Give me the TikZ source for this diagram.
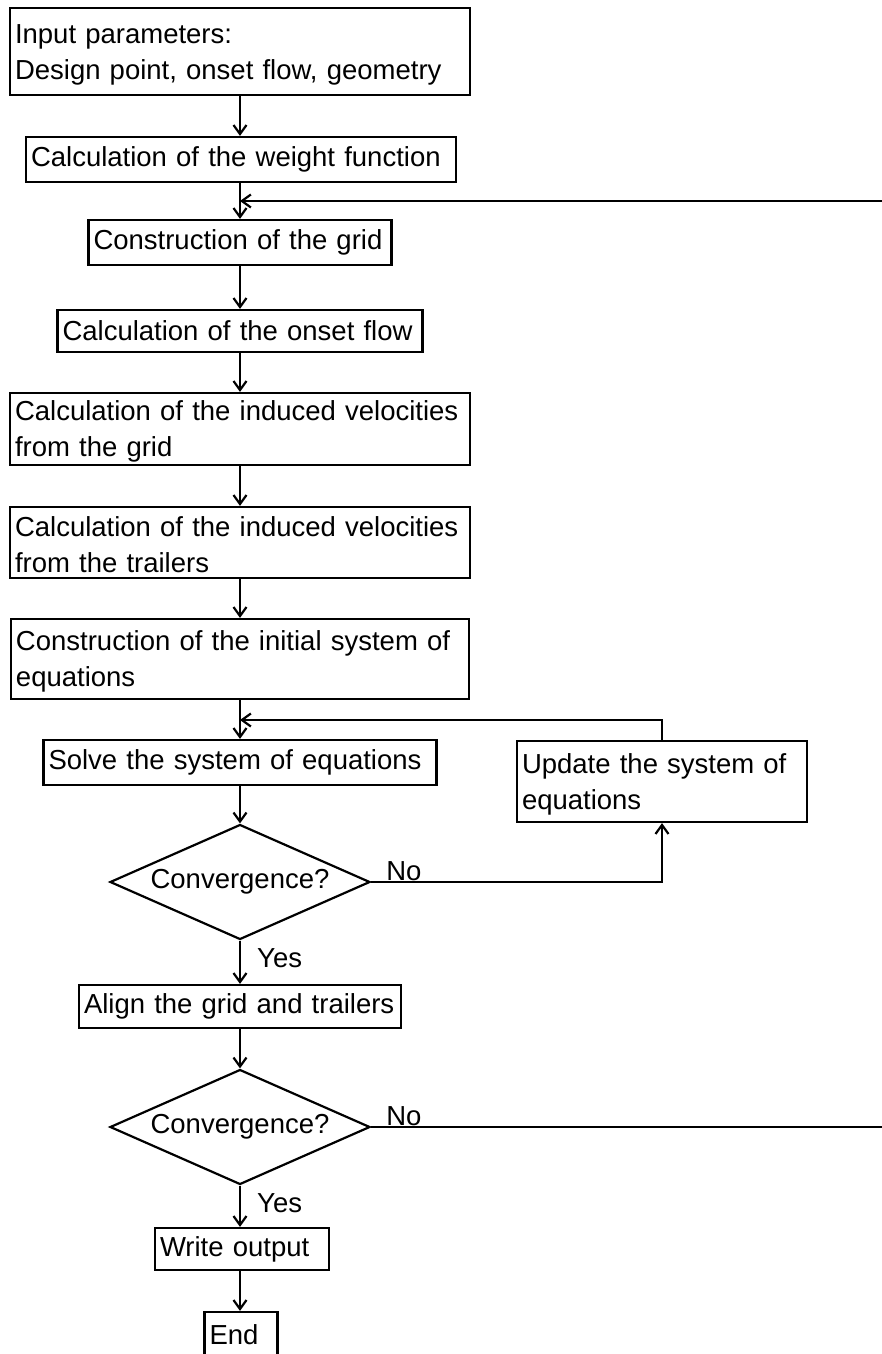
\documentclass[tikz,border=0pt]{standalone}
\usepackage{fontspec}
\setmainfont{Liberation Sans}
\usetikzlibrary{arrows.meta}
\usetikzlibrary{shapes.geometric}

\tikzset{
	stepbox/.style={draw, line width=2.2pt, inner xsep=5pt, inner ysep=0pt, align=left, font=\fontsize{27.5}{36}\selectfont},
	test/.style={draw, diamond, line width=2.2pt, inner sep=0pt, aspect=2.26, minimum width=260pt, minimum height=115pt, font=\fontsize{27.5}{36}\selectfont},
	lbl/.style={inner sep=0pt, anchor=base west, font=\fontsize{27.5}{36}\selectfont},
	flow/.style={line width=2.2pt, -{Straight Barb[length=9pt,width=13pt]}}
}

\begin{document}
\begin{tikzpicture}[x=1pt,y=-1pt]
	\useasboundingbox (0,0) rectangle (882,1354);
	\clip (0,0) rectangle (882,1354);
	% main column
	\node[stepbox, text width=450pt, minimum height=87pt] (inp) at (240,51.5) {\strut Input parameters:\\Design point, onset flow, geometry};
	\node[stepbox, text width=420pt, minimum height=45pt] (wfn) at (241,159.5) {Calculation of the weight function};
	\node[stepbox, text width=293pt, minimum height=45pt] (grd) at (240,242.5) {Construction of the grid};
	\node[stepbox, text width=355pt, minimum height=42pt] (ons) at (240,331) {Calculation of the onset flow};
	\node[stepbox, text width=450pt, minimum height=72pt] (ind1) at (240,429) {\strut Calculation of the induced velocities\\from the grid};
	\node[stepbox, text width=450pt, minimum height=71pt] (ind2) at (240,542.5) {\strut Calculation of the induced velocities\\from the trailers};
	\node[stepbox, text width=448pt, minimum height=80pt] (init) at (240,659) {\strut Construction of the initial system of\\equations};
	\node[stepbox, text width=383pt, minimum height=45pt] (slv) at (240,762.5) {Solve the system of equations};
	\node[stepbox, text width=280pt, minimum height=81pt] (upd) at (662,781.5) {\strut Update the system of\\equations};
	\node[test] (dia1) at (240,882) {Convergence?};
	\node[stepbox, text width=312pt, minimum height=43pt] (aln) at (240,1006.5) {Align the grid and trailers};
	\node[test] (dia2) at (240,1127) {Convergence?};
	\node[stepbox, text width=164pt, minimum height=42pt] (wout) at (242,1249) {Write output};
	\node[stepbox, text width=63pt, minimum height=45pt] (fin) at (241,1334.5) {End};
	% labels
	\node[lbl] (no1) at ([xshift=15pt,yshift=2pt]dia1.east) {No};
	\node[lbl] (yes1) at ([xshift=17pt,yshift=-27pt]dia1.south) {Yes};
	\node[lbl] (no2) at ([xshift=15pt,yshift=2pt]dia2.east) {No};
	\node[lbl] (yes2) at ([xshift=17pt,yshift=-27pt]dia2.south) {Yes};
	% joins and the right edge
	\coordinate (back) at (240,201);
	\coordinate (loop) at (240,720);
	\coordinate (edge) at (900,1127);
	% connectors
	\draw[flow] (inp) -- (wfn.north -| inp);
	\draw[flow] (wfn.south -| inp) -- (grd);
	\draw[flow] (grd) -- (ons);
	\draw[flow] (ons) -- (ind1);
	\draw[flow] (ind1) -- (ind2);
	\draw[flow] (ind2) -- (init);
	\draw[flow] (init) -- (slv);
	\draw[flow] (slv) -- (dia1);
	\draw[flow] (dia1) -| (upd);
	\draw[flow] (upd) |- (loop);
	\draw[flow] (dia1) -- (aln);
	\draw[flow] (aln) -- (dia2);
	\draw[flow] (dia2) -- (wout.north -| dia2);
	\draw[flow] (wout.south -| dia2) -- (fin.north -| dia2);
	\draw[flow] (dia2) -- (edge) |- (back);
\end{tikzpicture}
\end{document}
